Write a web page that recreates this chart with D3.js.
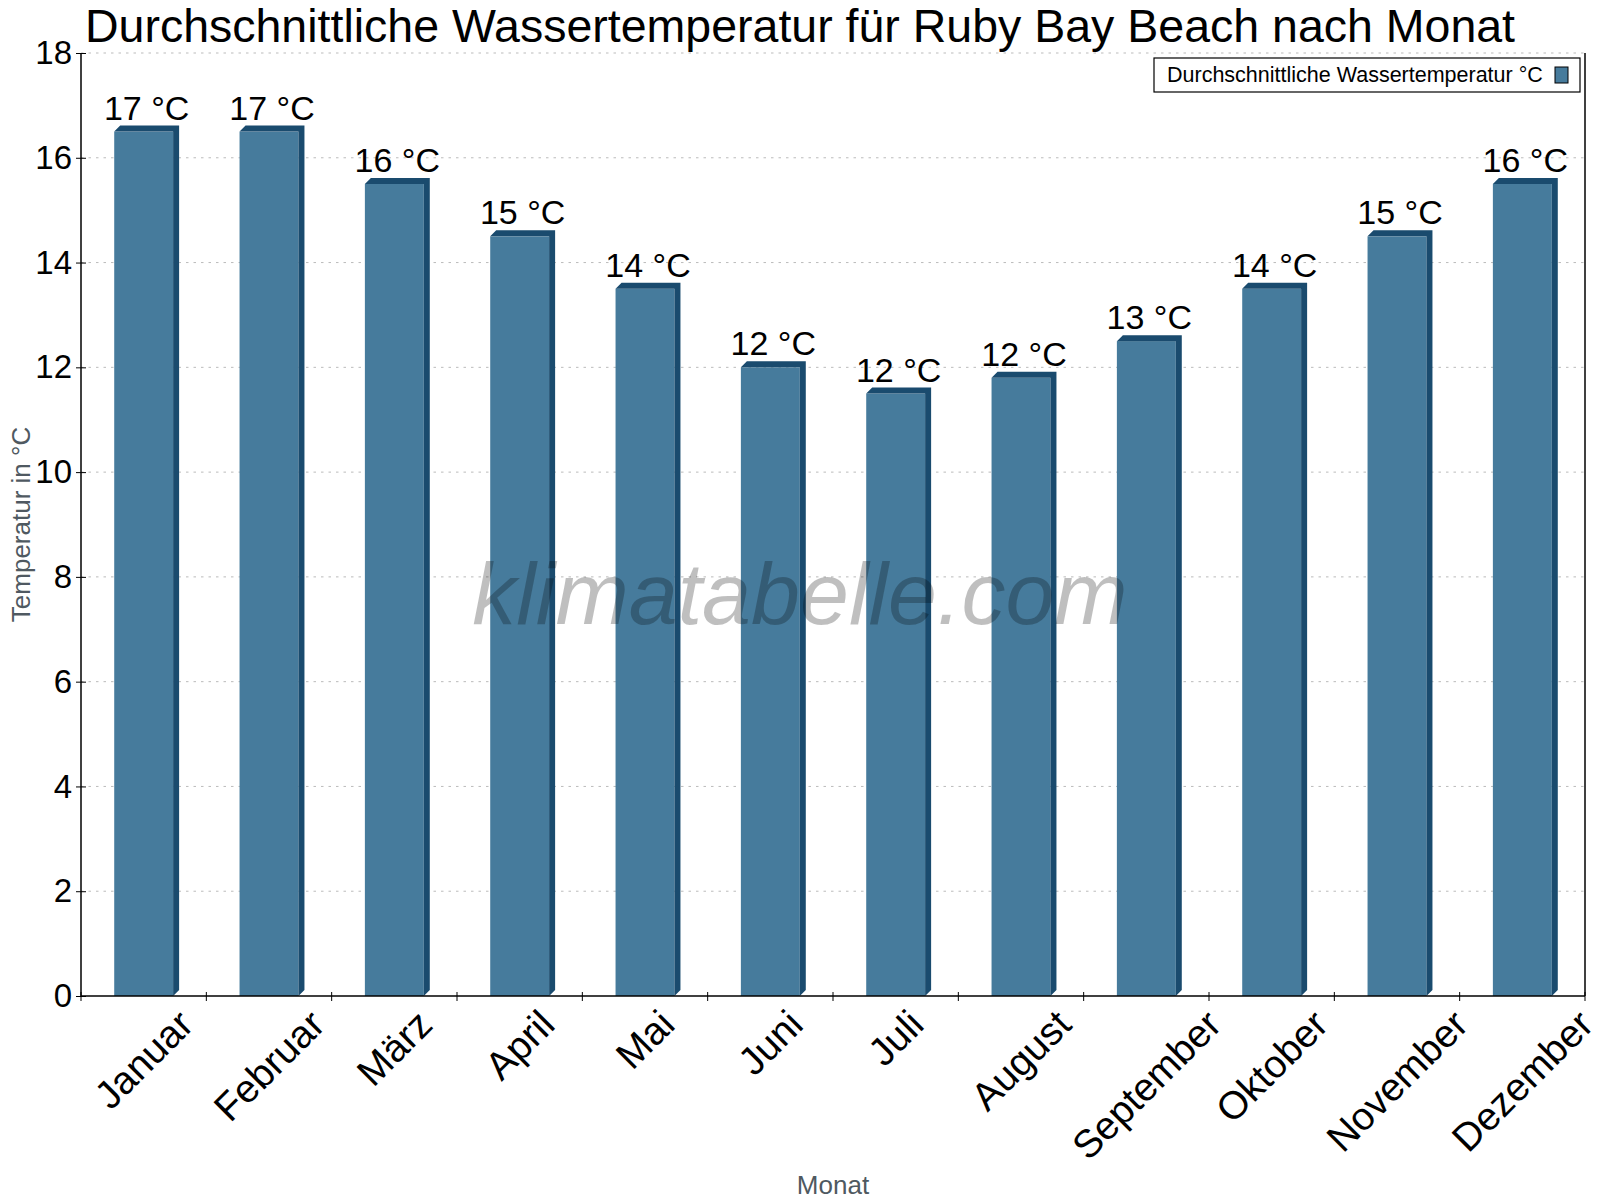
<!DOCTYPE html>
<meta charset="utf-8">
<style>
  body { margin: 0; background: #fff; }
  text { font-family: "Liberation Sans", Arial, sans-serif; }
</style>
<svg id="chart" width="1600" height="1200"></svg>
<script src="https://d3js.org/d3.v7.min.js"></script>
<script>

// data
const months = ["Januar", "Februar", "März", "April", "Mai", "Juni", "Juli",
                "August", "September", "Oktober", "November", "Dezember"];
const waterTemp = [16.5, 16.5, 15.5, 14.5, 13.5, 12.0, 11.5, 11.8, 12.5, 13.5, 14.5, 15.5];
const yTicks = [0, 2, 4, 6, 8, 10, 12, 14, 16, 18];

const titleText = "Durchschnittliche Wassertemperatur für Ruby Bay Beach nach Monat";
const seriesName = "Durchschnittliche Wassertemperatur °C";

const barFront = "#467b9c";
const barDark = "#1a4b6e";
const axisGrey = "#4f5961";

const plotLeft = 81, plotRight = 1585, plotTop = 53, plotBottom = 996;
const depth = 6;

const svg = d3.select("#chart");

const x = d3.scaleBand().domain(months).range([plotLeft, plotRight]).padding(0);
const y = d3.scaleLinear().domain([0, 18]).range([plotBottom, plotTop]);

// grid
svg.append("g")
  .selectAll("line")
  .data(yTicks.filter(d => d > 0))
  .join("line")
    .attr("x1", plotLeft).attr("x2", plotRight)
    .attr("y1", d => y(d)).attr("y2", d => y(d))
    .attr("stroke", "#bbb")
    .attr("stroke-dasharray", "2.5,5");

// bars, flat front + dark top/side faces
const bw = x.bandwidth() * 0.47;
const bars = svg.append("g")
  .selectAll("g")
  .data(months.map((m, i) => ({m, v: waterTemp[i]})))
  .join("g");

bars.append("rect")
  .attr("x", d => x(d.m) + x.bandwidth() / 2 - bw / 2)
  .attr("y", d => y(d.v))
  .attr("width", bw)
  .attr("height", d => y(0) - y(d.v))
  .attr("fill", barFront);

bars.append("path")
  .attr("fill", barDark)
  .attr("d", d => {
    const x0 = x(d.m) + x.bandwidth() / 2 - bw / 2, x1 = x0 + bw;
    const yt = y(d.v), yb = y(0);
    return `M${x0},${yt}L${x0 + depth},${yt - depth}L${x1 + depth},${yt - depth}` +
           `L${x1 + depth},${yb - depth}L${x1},${yb}L${x1},${yt}Z`;
  });

bars.append("text")
  .attr("x", d => x(d.m) + x.bandwidth() / 2 + depth / 2)
  .attr("y", d => y(d.v) - depth - 6)
  .attr("text-anchor", "middle")
  .attr("font-size", 34)
  .attr("fill", "#000")
  .text(d => Math.round(d.v) + " °C");

// y axis
const yAxis = svg.append("g")
  .attr("transform", `translate(${plotLeft},0)`)
  .call(d3.axisLeft(y).tickValues(yTicks).tickSize(5).tickPadding(4));
yAxis.select(".domain").remove();
yAxis.selectAll(".tick line").attr("x1", 5).attr("stroke", "#000");
yAxis.selectAll(".tick text")
  .attr("font-size", 33)
  .attr("font-family", "Liberation Sans, Arial, sans-serif")
  .attr("fill", "#000");

svg.append("line")
  .attr("x1", plotLeft).attr("x2", plotLeft).attr("y1", plotTop).attr("y2", plotBottom)
  .attr("stroke", "#000").attr("stroke-width", 1.5);
svg.append("line")
  .attr("x1", plotRight).attr("x2", plotRight).attr("y1", plotTop).attr("y2", plotBottom)
  .attr("stroke", "#000").attr("stroke-width", 1.5);

// x axis
const xAxis = svg.append("g")
  .attr("transform", `translate(0,${plotBottom})`)
  .call(d3.axisBottom(x).tickSize(0).tickFormat(""));
xAxis.select(".domain").remove();
svg.append("line")
  .attr("x1", plotLeft).attr("x2", plotRight).attr("y1", plotBottom).attr("y2", plotBottom)
  .attr("stroke", "#000").attr("stroke-width", 1.5);

const bounds = months.map(m => x(m)).concat([plotRight]);
svg.append("g")
  .selectAll("line")
  .data(bounds)
  .join("line")
    .attr("x1", d => d).attr("x2", d => d)
    .attr("y1", plotBottom - 4).attr("y2", plotBottom + 5)
    .attr("stroke", "#000");

// rotated month labels, box top fixed, centred on band
const labTop = plotBottom + 11;
const labSize = 39;
svg.append("g")
  .selectAll("text")
  .data(months)
  .join("text")
    .attr("font-size", labSize)
    .attr("text-anchor", "middle")
    .attr("dominant-baseline", "central")
    .text(d => d)
    .each(function(d) {
      const L = this.getComputedTextLength();
      const h = labSize * 0.75;
      const half = (L + h) * Math.SQRT1_2 / 2;
      const cx = x(d) + x.bandwidth() / 2;
      d3.select(this).attr("transform", `translate(${cx},${labTop + half}) rotate(-45)`);
    });

// titles
svg.append("text")
  .attr("x", 800).attr("y", 42)
  .attr("text-anchor", "middle")
  .attr("font-size", 46.5)
  .attr("fill", "#000")
  .text(titleText);

svg.append("text")
  .attr("transform", `translate(30,${(plotTop + plotBottom) / 2}) rotate(-90)`)
  .attr("text-anchor", "middle")
  .attr("font-size", 26)
  .attr("fill", axisGrey)
  .text("Temperatur in °C");

svg.append("text")
  .attr("x", (plotLeft + plotRight) / 2).attr("y", 1194)
  .attr("text-anchor", "middle")
  .attr("font-size", 26)
  .attr("fill", axisGrey)
  .text("Monat");

// legend
const legend = svg.append("g");
legend.append("rect")
  .attr("x", 1154).attr("y", 58).attr("width", 426).attr("height", 34)
  .attr("fill", "#fff").attr("stroke", "#000").attr("stroke-width", 1.2);
legend.append("text")
  .attr("x", 1167).attr("y", 82)
  .attr("font-size", 21.5)
  .attr("fill", "#000")
  .text(seriesName);
legend.append("rect")
  .attr("x", 1555).attr("y", 67).attr("width", 13).attr("height", 16)
  .attr("fill", barFront).attr("stroke", "#000").attr("stroke-width", 1);

// watermark
svg.append("text")
  .attr("x", 800).attr("y", 624)
  .attr("text-anchor", "middle")
  .attr("font-family", "Roboto, sans-serif")
  .attr("font-style", "italic")
  .attr("font-weight", 100)
  .attr("font-size", 88)
  .attr("fill", "#000")
  .attr("fill-opacity", 0.25)
  .text("klimatabelle.com");

</script>
